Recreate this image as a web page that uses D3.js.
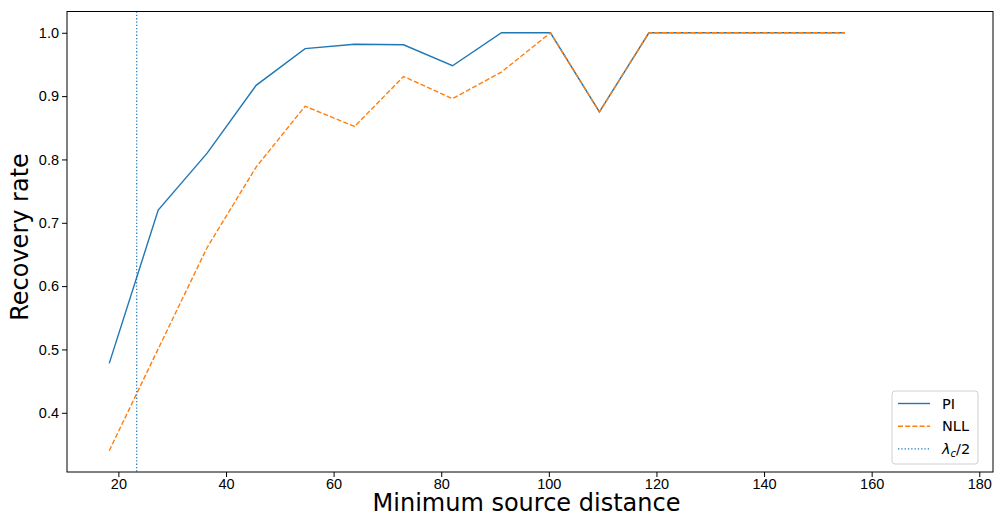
<!DOCTYPE html>
<html>
<head>
<meta charset="utf-8">
<script src="https://cdn.jsdelivr.net/npm/d3@7"></script>
<style>
  body { margin: 0; background: #fff; }
  svg { display: block; font-family: "DejaVu Sans", sans-serif; }
  .tick text { font-size: 14.5px; fill: #000; }
</style>
</head>
<body>
<svg id="chart" width="997" height="516"></svg>
<script>
// distances (x) shared by both series
const distances = [18.3, 27.4, 36.5, 45.6, 54.7, 63.9, 73.0, 82.1, 91.2, 100.3, 109.4, 118.6, 127.7, 136.8, 145.9, 155.0];
const piRate  = [0.478, 0.720, 0.810, 0.917, 0.975, 0.982, 0.981, 0.948, 1.0, 1.0, 0.875, 1.0, 1.0, 1.0, 1.0, 1.0];
const nllRate = [0.340, 0.501, 0.661, 0.788, 0.884, 0.852, 0.931, 0.896, 0.938, 1.0, 0.875, 1.0, 1.0, 1.0, 1.0, 1.0];
const halfLambda = 23.4;
const xTicks = [20, 40, 60, 80, 100, 120, 140, 160, 180];
const yTicks = [0.4, 0.5, 0.6, 0.7, 0.8, 0.9, 1.0];

const margin = {left: 67, top: 11.5, right: 993, bottom: 472};
const svg = d3.select('#chart');

const x = d3.scaleLinear().domain([10.45, 182.55]).range([margin.left, margin.right]);
const y = d3.scaleLinear().domain([0.3065, 1.0336]).range([margin.bottom, margin.top]);

const line = d3.line()
    .x((d, i) => x(distances[i]))
    .y(d => y(d));

// axes
const xAxis = svg.append('g')
    .attr('transform', `translate(0,${margin.bottom})`)
    .call(d3.axisBottom(x).tickValues(xTicks).tickFormat(d3.format('d')).tickSize(5).tickPadding(1.5));
const yAxis = svg.append('g')
    .attr('transform', `translate(${margin.left},0)`)
    .call(d3.axisLeft(y).tickValues(yTicks).tickFormat(d3.format('.1f')).tickSize(5).tickPadding(3));
[xAxis, yAxis].forEach(a => {
    a.select('.domain').remove();
    a.selectAll('.tick line').attr('stroke', '#000').attr('stroke-width', 1);
});

// data lines
svg.append('path')
    .attr('d', line(piRate))
    .attr('fill', 'none')
    .attr('stroke', '#1f77b4')
    .attr('stroke-width', 1.4);
svg.append('path')
    .attr('d', line(nllRate))
    .attr('fill', 'none')
    .attr('stroke', '#ff7f0e')
    .attr('stroke-width', 1.4)
    .attr('stroke-dasharray', '5,2.2');
svg.append('line')
    .attr('x1', x(halfLambda)).attr('x2', x(halfLambda))
    .attr('y1', margin.top).attr('y2', margin.bottom)
    .attr('stroke', '#1f77b4')
    .attr('stroke-width', 1.2)
    .attr('stroke-dasharray', '1.3,2');

// frame
svg.append('rect')
    .attr('x', margin.left).attr('y', margin.top)
    .attr('width', margin.right - margin.left)
    .attr('height', margin.bottom - margin.top)
    .attr('fill', 'none')
    .attr('stroke', '#000')
    .attr('stroke-width', 1);

// axis labels
svg.append('text')
    .attr('x', 526.5)
    .attr('y', 511)
    .attr('text-anchor', 'middle')
    .attr('font-size', 24)
    .text('Minimum source distance');
svg.append('text')
    .attr('transform', `translate(27.5,237) rotate(-90)`)
    .attr('text-anchor', 'middle')
    .attr('font-size', 24)
    .text('Recovery rate');

// legend
const legend = svg.append('g').attr('transform', 'translate(892,391)');
legend.append('rect')
    .attr('width', 86).attr('height', 73)
    .attr('rx', 3)
    .attr('fill', '#fff')
    .attr('fill-opacity', 0.8)
    .attr('stroke', '#d0d0d0');
const items = [
    {label: 'PI', color: '#1f77b4', dash: null},
    {label: 'NLL', color: '#ff7f0e', dash: '5,2.2'},
    {label: 'lambda', color: '#1f77b4', dash: '1.3,2'}
];
items.forEach((it, i) => {
    const g = legend.append('g').attr('transform', `translate(0,${12.5 + i * 22.7})`);
    g.append('line')
        .attr('x1', 6).attr('x2', 38)
        .attr('stroke', it.color)
        .attr('stroke-width', it.dash === '1.3,2' ? 1.2 : 1.4)
        .attr('stroke-dasharray', it.dash);
    const t = g.append('text')
        .attr('x', 50).attr('y', 5)
        .attr('font-size', 14.5);
    if (it.label === 'lambda') {
        t.append('tspan').attr('font-style', 'italic').text('λ');
        t.append('tspan').attr('font-style', 'italic').attr('font-size', 10).attr('dy', 3).text('c');
        t.append('tspan').attr('dy', -3).text('/2');
    } else {
        t.text(it.label);
    }
});
</script>
</body>
</html>
